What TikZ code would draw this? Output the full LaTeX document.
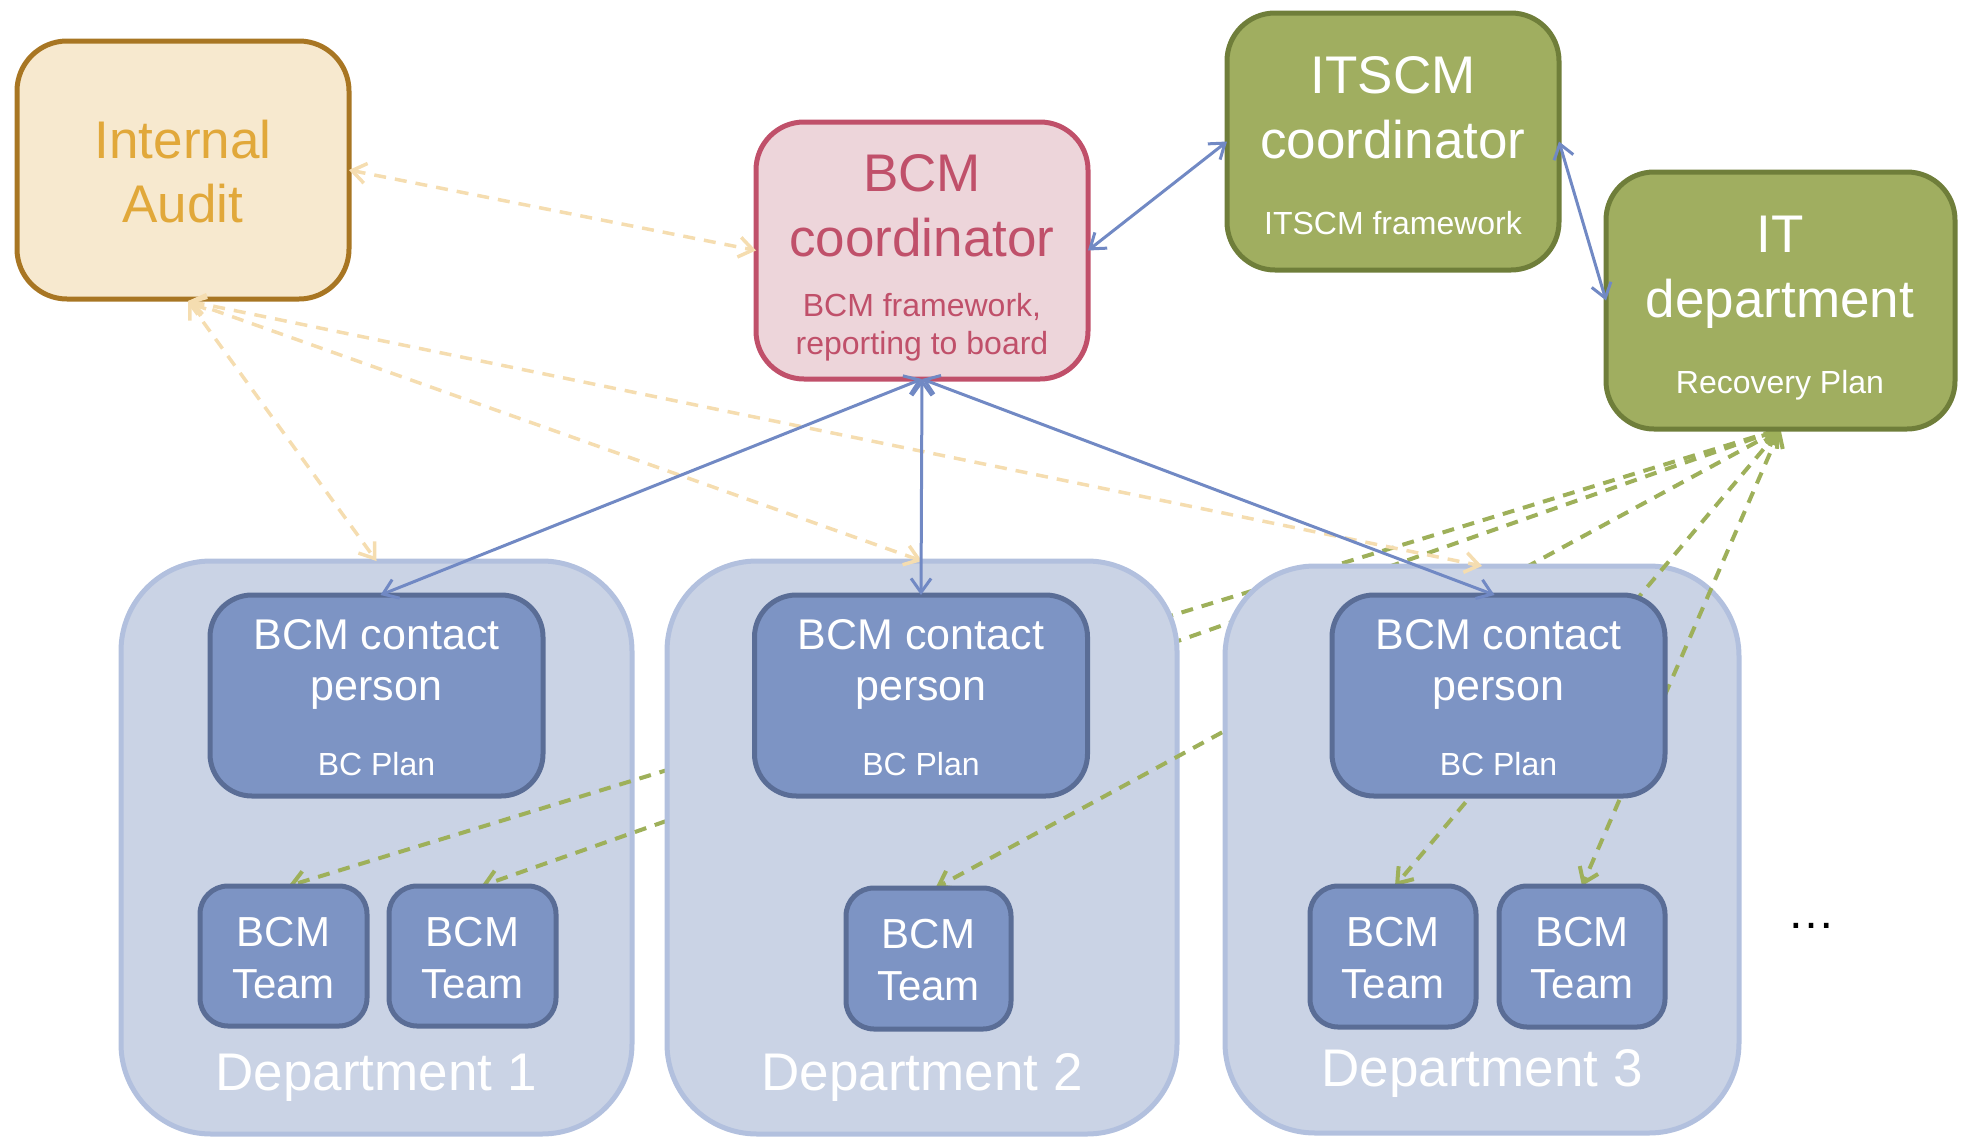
\documentclass[tikz,border=0pt]{standalone}
\usepackage{fontspec}
\setmainfont{Liberation Sans}
\usetikzlibrary{arrows.meta,calc}
\pgfdeclarelayer{lA}
\pgfdeclarelayer{gA}
\pgfdeclarelayer{lB}
\pgfdeclarelayer{gB}
\pgfdeclarelayer{lC}
\pgfdeclarelayer{gC}
\pgfsetlayers{lA,gA,lB,gB,lC,gC,main}
\definecolor{iafill}{HTML}{F7E9CF}
\definecolor{iadraw}{HTML}{A87623}
\definecolor{iatext}{HTML}{E1A83A}
\definecolor{bcmfill}{HTML}{EDD5DA}
\definecolor{bcmdraw}{HTML}{C0506A}
\definecolor{grfill}{HTML}{A0AE60}
\definecolor{grdraw}{HTML}{6F7E3A}
\definecolor{depfill}{HTML}{CAD3E5}
\definecolor{depdraw}{HTML}{B2C0DE}
\definecolor{cpfill}{HTML}{7D94C4}
\definecolor{cpdraw}{HTML}{5A6D96}
\definecolor{bluearrow}{HTML}{7189C4}
\definecolor{tanline}{HTML}{F5DDB0}
\definecolor{grline}{HTML}{9EB05A}
\newcommand\fsz[2]{\fontsize{#1}{#2}\selectfont}
\tikzset{
  boxbase/.style={draw, inner sep=0pt, outer sep=0pt},
  iabox/.style={boxbase, fill=iafill, draw=iadraw, line width=5pt, rounded corners=50pt},
  bcmbox/.style={boxbase, fill=bcmfill, draw=bcmdraw, line width=5pt, rounded corners=48pt},
  grbox/.style={boxbase, fill=grfill, draw=grdraw, line width=5pt, rounded corners=48pt},
  depbox/.style={boxbase, fill=depfill, draw=depdraw, line width=5pt, rounded corners=90pt},
  cpbox/.style={boxbase, fill=cpfill, draw=cpdraw, line width=5pt, rounded corners=42pt},
  teambox/.style={boxbase, fill=cpfill, draw=cpdraw, line width=5pt, rounded corners=28pt},
  txt/.style={anchor=base, inner sep=0pt, outer sep=0pt},
  bigtxt/.style={txt, font=\fsz{53}{64}},
  smalltxt/.style={txt, font=\fsz{32}{38}},
  cptxt/.style={txt, font=\fsz{43}{51}, text=white},
  teamtxt/.style={txt, font=\fsz{42}{52}, text=white},
  tipV/.style={arrows={Straight Barb[length=14pt,width=20pt]-Straight Barb[length=14pt,width=20pt]}},
  bluelink/.style={tipV, draw=bluearrow, line width=3pt},
  tanlink/.style={tipV, draw=tanline, line width=3.5pt, dash pattern=on 12pt off 9pt},
  grlink/.style={tipV, draw=grline, line width=4pt, dash pattern=on 12pt off 9pt}
}
\begin{document}
\begin{tikzpicture}[x=1pt,y=-1pt]
\useasboundingbox (0,0) rectangle (1966,1138);
% top boxes
\node[iabox, minimum width=332pt, minimum height=258pt] (ia) at (183,170) {};
\node[bigtxt, text=iatext] (iat1) at (183,158) {Internal};
\node[bigtxt, text=iatext] (iat2) at (183,222) {Audit};

\node[bcmbox, minimum width=332pt, minimum height=257pt] (bcm) at (922,250.5) {};
\node[bigtxt, text=bcmdraw] (bcmt1) at (922,191) {BCM};
\node[bigtxt, text=bcmdraw] (bcmt2) at (922,256) {coordinator};
\node[smalltxt, text=bcmdraw] (bcmt3) at (922,316) {BCM framework,};
\node[smalltxt, text=bcmdraw] (bcmt4) at (922,354) {reporting to board};

\node[grbox, minimum width=332pt, minimum height=257pt] (itscm) at (1393,141.5) {};
\node[bigtxt, text=white] (itscmt1) at (1393,93) {ITSCM};
\node[bigtxt, text=white] (itscmt2) at (1393,158) {coordinator};
\node[smalltxt, text=white] (itscmt3) at (1393,234) {ITSCM framework};

\node[grbox, minimum width=349pt, minimum height=257pt] (itd) at (1780.5,300.5) {};
\node[bigtxt, text=white] (itdt1) at (1780,252) {IT};
\node[bigtxt, text=white] (itdt2) at (1780,317) {department};
\node[smalltxt, text=white] (itdt3) at (1780,393) {Recovery Plan};

% departments
\begin{pgfonlayer}{lA}
\node[depbox, minimum width=511pt, minimum height=573pt] (dep1) at (376.5,847.5) {};
\end{pgfonlayer}
\begin{pgfonlayer}{lB}
\node[depbox, minimum width=510pt, minimum height=573pt] (dep2) at (922,847.5) {};
\end{pgfonlayer}
\begin{pgfonlayer}{lC}
\node[depbox, minimum width=514pt, minimum height=567pt] (dep3) at (1482,849.5) {};
\end{pgfonlayer}
\node[bigtxt, text=white] (dep1t) at (376,1090) {Department 1};
\node[bigtxt, text=white] (dep2t) at (922,1090) {Department 2};
\node[bigtxt, text=white] (dep3t) at (1482,1086) {Department 3};

% contact persons
\node[cpbox, minimum width=333pt, minimum height=201pt] (cp1) at (376.5,695.5) {};
\node[cpbox, minimum width=333pt, minimum height=201pt] (cp2) at (921,695.5) {};
\node[cpbox, minimum width=333pt, minimum height=201pt] (cp3) at (1498.5,695.5) {};
\foreach \n/\x in {1/376.5,2/921,3/1498.5}{
  \node[cptxt] (cp\n a) at (\x,649) {BCM contact};
  \node[cptxt] (cp\n b) at (\x,700) {person};
  \node[smalltxt, text=white] (cp\n c) at (\x,775) {BC Plan};
}

% teams
\node[teambox, minimum width=167pt, minimum height=140pt] (t1a) at (283.5,956) {};
\node[teambox, minimum width=167pt, minimum height=140pt] (t1b) at (472.5,956) {};
\node[teambox, minimum width=165pt, minimum height=141pt] (t2) at (928.5,958.5) {};
\node[teambox, minimum width=166pt, minimum height=141pt] (t3a) at (1393,956.5) {};
\node[teambox, minimum width=166pt, minimum height=141pt] (t3b) at (1582,956.5) {};
\foreach \t/\x/\y in {t1a/283.5/946,t1b/472.5/946,t2/928.5/948,t3a/1393/946,t3b/1582/946}{
  \node[teamtxt] (\t l1) at (\x,\y) {BCM};
  \node[teamtxt] (\t l2) at (\x,\y+52) {Team};
}

\node[txt, font=\fsz{48}{48}] (dots) at (1811,928) {…};

% green dashed links (layered behind other departments)
\begin{pgfonlayer}{gA}
\draw[grlink] (itd.south) -- ($(t1a.north)+(5,0)$);
\draw[grlink] (itd.south) -- ($(t1b.north)+(9,0)$);
\end{pgfonlayer}
\begin{pgfonlayer}{gB}
\draw[grlink] (itd.south) -- ($(t2.north)+(7,0)$);
\end{pgfonlayer}
\begin{pgfonlayer}{gC}
\draw[grlink] (itd.south) -- ($(t3a.north)+(2,0)$);
\draw[grlink] (itd.south) -- (t3b.north);
\end{pgfonlayer}

% tan dashed links
\draw[tanlink] (ia.east) -- (bcm.west);
\draw[tanlink] ($(ia.south)+(5,2)$) -- (dep1.north);
\draw[tanlink] ($(ia.south)+(5,2)$) -- (dep2.north);
\draw[tanlink] ($(ia.south)+(5,2)$) -- (dep3.north);

% blue links
\draw[bluelink] (bcm.east) -- (itscm.west);
\draw[bluelink] (itscm.east) -- (itd.west);
\draw[bluelink] (bcm.south) -- ($(cp1.north)+(4,0)$);
\draw[bluelink] (bcm.south) -- (cp2.north);
\draw[bluelink] (bcm.south) -- ($(cp3.north)+(-4,0)$);
\end{tikzpicture}
\end{document}
